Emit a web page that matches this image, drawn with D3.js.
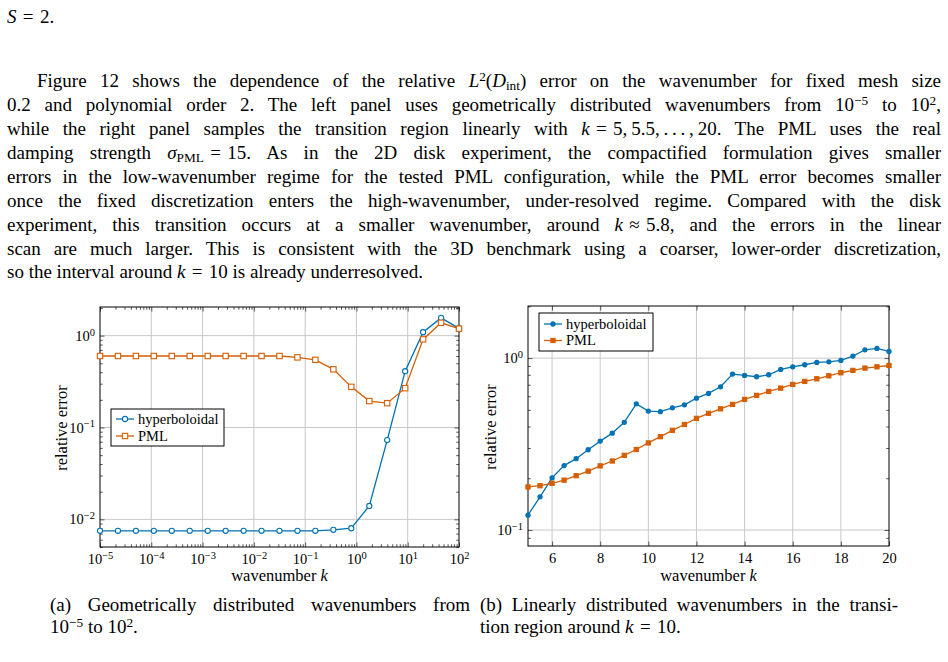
<!DOCTYPE html>
<html>
<head>
<meta charset="utf-8">
<script src="https://cdn.jsdelivr.net/npm/d3@7"></script>
<style>
body { margin: 0; width: 948px; height: 662px; overflow: hidden; background: #fff; position: relative;
       font-family: "Liberation Serif", serif; color: #000; }
.ln { position: absolute; font-size: 19px; line-height: 24px; white-space: nowrap;
      text-align: justify; text-align-last: justify; }
.nj { text-align: left; text-align-last: left; }
.sup { position: relative; top: -0.45em; font-size: 0.7em; }
.sub { position: relative; top: 0.25em; font-size: 0.7em; }
svg { position: absolute; left: 0; top: 0; }
</style>
</head>
<body>
<div class="ln nj" style="left:7px;top:5px"><i>S</i>&#8196;=&#8196;2.</div>

<div class="ln" style="left:37px;width:904px;top:69px">Figure 12 shows the dependence of the relative <i>L</i><span class="sup">2</span>(<i>D</i><span class="sub">int</span>) error on the wavenumber for fixed mesh size</div>
<div class="ln" style="left:7px;width:934px;top:93px">0.2 and polynomial order 2. The left panel uses geometrically distributed wavenumbers from 10<span class="sup">−5</span> to 10<span class="sup">2</span>,</div>
<div class="ln" style="left:7px;width:934px;top:117px">while the right panel samples the transition region linearly with <i>k</i>&#8196;=&#8196;5,&#8201;5.5,&#8201;.&#8201;.&#8201;.&#8201;,&#8201;20. The PML uses the real</div>
<div class="ln" style="left:7px;width:934px;top:141px">damping strength <i>σ</i><span class="sub">PML</span>&#8196;=&#8196;15. As in the 2D disk experiment, the compactified formulation gives smaller</div>
<div class="ln" style="left:7px;width:934px;top:165px">errors in the low-wavenumber regime for the tested PML configuration, while the PML error becomes smaller</div>
<div class="ln" style="left:7px;width:934px;top:189px">once the fixed discretization enters the high-wavenumber, under-resolved regime. Compared with the disk</div>
<div class="ln" style="left:7px;width:934px;top:213px">experiment, this transition occurs at a smaller wavenumber, around <i>k</i>&#8196;≈&#8196;5.8, and the errors in the linear</div>
<div class="ln" style="left:7px;width:934px;top:237px">scan are much larger. This is consistent with the 3D benchmark using a coarser, lower-order discretization,</div>
<div class="ln nj" style="left:7px;top:260px">so the interval around <i>k</i>&#8196;=&#8196;10 is already underresolved.</div>

<div class="ln" style="left:50px;width:420px;top:593px">(a) Geometrically distributed wavenumbers from</div>
<div class="ln nj" style="left:50px;top:615px">10<span class="sup">−5</span> to 10<span class="sup">2</span>.</div>
<div class="ln" style="left:480px;width:418px;top:593px">(b) Linearly distributed wavenumbers in the transi-</div>
<div class="ln nj" style="left:480px;top:615px">tion region around <i>k</i>&#8196;=&#8196;10.</div>

<svg id="fig" width="948" height="662"></svg>

<script>
// ---- data ----
const seriesNames = ["hyperboloidal", "PML"];

// (a) geometric wavenumbers
const kGeo = [1e-5, 2.24e-5, 5.01e-5, 1.12e-4, 2.51e-4, 5.62e-4, 1.26e-3, 2.82e-3, 6.31e-3, 1.41e-2,
              3.16e-2, 7.08e-2, 0.158, 0.355, 0.794, 1.78, 3.98, 8.91, 19.95, 44.7, 100];
const hypGeo = [0.0075, 0.0075, 0.0075, 0.0075, 0.0075, 0.0075, 0.0075, 0.0075, 0.0075, 0.0075,
                0.0075, 0.0075, 0.0075, 0.0077, 0.0080, 0.014, 0.073, 0.41, 1.09, 1.56, 1.2];
const pmlGeo = [0.6, 0.6, 0.6, 0.6, 0.6, 0.6, 0.6, 0.6, 0.6, 0.6,
                0.6, 0.58, 0.545, 0.43, 0.277, 0.194, 0.184, 0.268, 0.91, 1.38, 1.19];
const geoXTicks = [1e-5, 1e-4, 1e-3, 1e-2, 1e-1, 1, 10, 100];
const geoYTicks = [0.01, 0.1, 1];

// (b) linear wavenumbers
const kLin = [5, 5.5, 6, 6.5, 7, 7.5, 8, 8.5, 9, 9.5, 10, 10.5, 11, 11.5, 12, 12.5,
              13, 13.5, 14, 14.5, 15, 15.5, 16, 16.5, 17, 17.5, 18, 18.5, 19, 19.5, 20];
const hypLin = [0.122, 0.156, 0.201, 0.237, 0.260, 0.293, 0.329, 0.366, 0.423, 0.542, 0.492, 0.488,
                0.514, 0.535, 0.585, 0.623, 0.681, 0.807, 0.793, 0.779, 0.800, 0.859, 0.890, 0.915,
                0.944, 0.952, 0.969, 1.027, 1.118, 1.138, 1.093];
const pmlLin = [0.178, 0.181, 0.187, 0.195, 0.207, 0.220, 0.236, 0.252, 0.272, 0.294, 0.321, 0.349,
                0.380, 0.411, 0.446, 0.477, 0.507, 0.538, 0.575, 0.607, 0.640, 0.669, 0.703, 0.732,
                0.758, 0.789, 0.822, 0.848, 0.875, 0.890, 0.906];
const linXTicks = [6, 8, 10, 12, 14, 16, 18, 20];
const linYTicks = [0.1, 1];

const colors = ["#0072b2", "#d55e00"];
const FONT = "'Liberation Serif', serif";
const svg = d3.select("#fig");

function logLabel(sel) {
  sel.each(function(d) {
    const t = d3.select(this).text("");
    t.append("tspan").text("10");
    const e = Math.round(Math.log10(d));
    t.append("tspan").attr("dy", "-0.5em").attr("font-size", 10.5)
      .text(e < 0 ? "\u2212" + (-e) : e);
  });
}

function marker(sel, type, filled, color) {
  if (type === "circle") {
    sel.append("circle").attr("r", filled ? 2.1 : 2.6)
      .attr("fill", filled ? color : "#fff").attr("stroke", color).attr("stroke-width", 1.1);
  } else {
    const s = filled ? 4.2 : 5.4;
    sel.append("rect").attr("x", -s / 2).attr("y", -s / 2).attr("width", s).attr("height", s)
      .attr("fill", filled ? color : "#fff").attr("stroke", color).attr("stroke-width", 1.1);
  }
}

function panel(o) {
  const g = svg.append("g");
  const x = o.x, y = o.y;
  const [xl, xr] = x.range(), [yb, yt] = y.range();

  // major grid
  g.append("g").selectAll("line").data(o.xTicks.filter(v => x(v) > xl + 1 && x(v) < xr - 1)).join("line")
    .attr("x1", d => x(d)).attr("x2", d => x(d)).attr("y1", yt).attr("y2", yb)
    .attr("stroke", "#c8c8c8").attr("stroke-width", 1);
  g.append("g").selectAll("line").data(o.yTicks).join("line")
    .attr("y1", d => y(d)).attr("y2", d => y(d)).attr("x1", xl).attr("x2", xr)
    .attr("stroke", "#c8c8c8").attr("stroke-width", 1);

  // tick marks (inside, all four sides)
  function ticks(axisFn, scale, vals, len, tr) {
    g.append("g").attr("transform", tr)
      .call(axisFn(scale).tickValues(vals).tickSize(-len).tickSizeOuter(0).tickFormat(""))
      .call(a => { a.select(".domain").remove(); a.selectAll("text").remove();
                   a.selectAll("line").attr("stroke", "#333").attr("stroke-width", 0.8); });
  }
  const xMinor = o.xMinor || [], yMinor = y.ticks().filter(v => Math.abs(Math.log10(v) - Math.round(Math.log10(v))) > 1e-6);
  ticks(d3.axisBottom, x, o.xTicks, 4.5, `translate(0,${yb})`);
  ticks(d3.axisTop, x, o.xTicks, 4.5, `translate(0,${yt})`);
  ticks(d3.axisBottom, x, xMinor, 2.8, `translate(0,${yb})`);
  ticks(d3.axisTop, x, xMinor, 2.8, `translate(0,${yt})`);
  ticks(d3.axisLeft, y, o.yTicks, 4.5, `translate(${xl},0)`);
  ticks(d3.axisRight, y, o.yTicks, 4.5, `translate(${xr},0)`);
  ticks(d3.axisLeft, y, yMinor, 2.8, `translate(${xl},0)`);
  ticks(d3.axisRight, y, yMinor, 2.8, `translate(${xr},0)`);

  // tick labels
  const xa = g.append("g").attr("transform", `translate(0,${yb})`)
    .call(d3.axisBottom(x).tickValues(o.xTicks).tickSize(0).tickPadding(7));
  xa.select(".domain").remove();
  xa.attr("font-family", FONT).attr("font-size", 14.5);
  if (o.xLog) xa.selectAll("text").call(logLabel);
  const ya = g.append("g").attr("transform", `translate(${xl},0)`)
    .call(d3.axisLeft(y).tickValues(o.yTicks).tickSize(0).tickPadding(5));
  ya.select(".domain").remove();
  ya.attr("font-family", FONT).attr("font-size", 14.5);
  ya.selectAll("text").call(logLabel);

  // frame
  g.append("rect").attr("x", xl).attr("y", yt).attr("width", xr - xl).attr("height", yb - yt)
    .attr("fill", "none").attr("stroke", "#000").attr("stroke-width", 1);

  // series
  const series = [o.hyp, o.pml];
  series.forEach((vals, si) => {
    const pts = o.k.map((k, i) => [x(k), y(vals[i])]);
    g.append("path").attr("d", d3.line()(pts)).attr("fill", "none")
      .attr("stroke", colors[si]).attr("stroke-width", 1.3);
    g.append("g").selectAll("g").data(pts).join("g")
      .attr("transform", d => `translate(${d[0]},${d[1]})`)
      .call(s => marker(s, si === 0 ? "circle" : "square", o.filled, colors[si]));
  });

  // axis labels
  const xt = g.append("text").attr("x", (xl + xr) / 2).attr("y", o.xLabelY).attr("text-anchor", "middle")
    .attr("font-family", FONT).attr("font-size", 16.5);
  xt.append("tspan").text("wavenumber ");
  xt.append("tspan").attr("font-style", "italic").text("k");
  g.append("text").attr("transform", `translate(${o.yLabelX},${(yt + yb) / 2 + 1}) rotate(-90)`)
    .attr("text-anchor", "middle").attr("font-family", FONT).attr("font-size", 16.5).text("relative error");

  // legend
  const L = o.legend;
  const lg = g.append("g");
  lg.append("rect").attr("x", L.x).attr("y", L.y).attr("width", L.w).attr("height", L.h)
    .attr("fill", "#fff").attr("stroke", "#000").attr("stroke-width", 1);
  seriesNames.forEach((name, si) => {
    const cy = L.y + L.row0 + si * L.dy;
    lg.append("line").attr("x1", L.x + 5).attr("x2", L.x + 23).attr("y1", cy).attr("y2", cy)
      .attr("stroke", colors[si]).attr("stroke-width", 1.3);
    lg.append("g").attr("transform", `translate(${L.x + 14},${cy})`)
      .call(s => marker(s, si === 0 ? "circle" : "square", o.filled, colors[si]));
    lg.append("text").attr("x", L.x + 27).attr("y", cy + 4.5).attr("font-family", FONT)
      .attr("font-size", 14.5).text(name);
  });
}

const xL = d3.scaleLog().domain([1e-5, 1e2]).range([100, 459]);
const yL = d3.scaleLog().domain([0.005, 2.05]).range([547, 307]);
panel({
  x: xL, y: yL, k: kGeo, hyp: hypGeo, pml: pmlGeo, filled: false, xLog: true,
  xTicks: geoXTicks, yTicks: geoYTicks,
  xMinor: xL.ticks().filter(v => Math.abs(Math.log10(v) - Math.round(Math.log10(v))) > 1e-6),
  xLabelY: 581, yLabelX: 67,
  legend: { x: 111, y: 409, w: 113, h: 37, row0: 10, dy: 17 }
});

const xR = d3.scaleLinear().domain([5, 20]).range([528, 889]);
const yR = d3.scaleLog().domain([0.0807, 2.01]).range([546, 306]);
panel({
  x: xR, y: yR, k: kLin, hyp: hypLin, pml: pmlLin, filled: true, xLog: false,
  xTicks: linXTicks, yTicks: linYTicks,
  xLabelY: 581, yLabelX: 496,
  legend: { x: 539, y: 313, w: 114, h: 38, row0: 11, dy: 16.5 }
});
</script>
</body>
</html>
